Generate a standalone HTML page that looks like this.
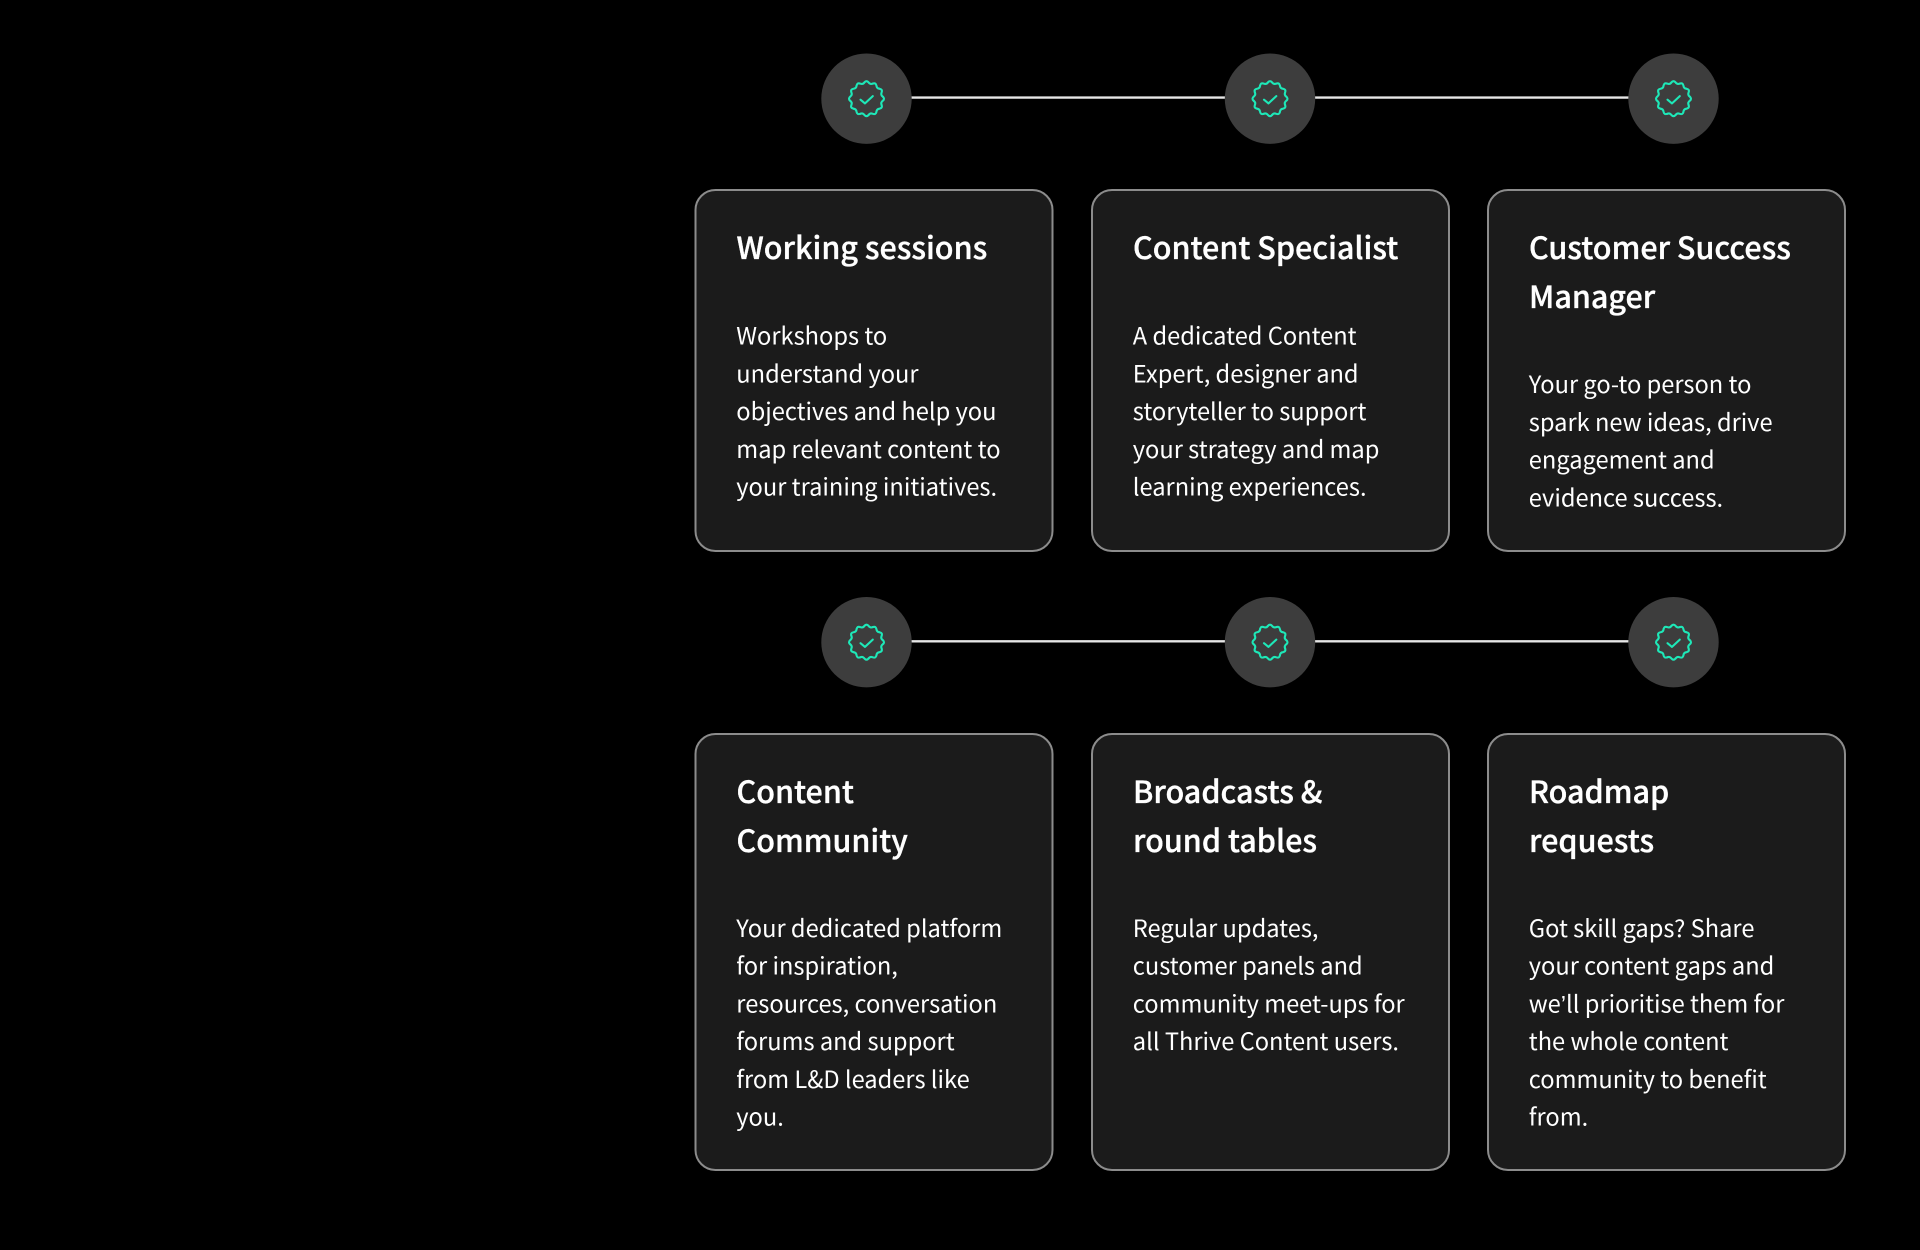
<!DOCTYPE html>
<html lang="en">
<head>
<meta charset="utf-8">
<title>Services</title>
<style>
html,body{margin:0;padding:0;background:#000;width:1920px;height:1250px;overflow:hidden}
svg{display:block}
text{font-family:"Noto Sans CJK SC","Liberation Sans",sans-serif;fill:#fff}
.h{font-size:30.5px;font-weight:500;stroke:#fff;stroke-width:.35px}
.b{font-size:23.65px;font-weight:400}
.c{fill:#1b1b1b;stroke:#8c8c8c;stroke-width:2}
.l{stroke:#e6e6e6;stroke-width:2.4}
.n{fill:#3d3d3d}
.i{fill:none;stroke:#1ee8b8;stroke-width:2.1;stroke-linecap:round;stroke-linejoin:round}
.q{font-family:"Liberation Sans",sans-serif}
</style>
</head>
<body>
<svg width="1920" height="1250" viewBox="0 0 1920 1250" xmlns="http://www.w3.org/2000/svg">
<defs>
<path id="s" d="M-2.135 -16.22Q0 -18.8 2.135 -16.22Q3.83 -14 6.26 -15.11"/>
<g id="badge">
<circle class="n" r="45.2"/>
<g class="i">
<use href="#s"/><use href="#s" transform="rotate(30)"/><use href="#s" transform="rotate(60)"/><use href="#s" transform="rotate(90)"/><use href="#s" transform="rotate(120)"/><use href="#s" transform="rotate(150)"/><use href="#s" transform="rotate(180)"/><use href="#s" transform="rotate(210)"/><use href="#s" transform="rotate(240)"/><use href="#s" transform="rotate(270)"/><use href="#s" transform="rotate(300)"/><use href="#s" transform="rotate(330)"/>
<path d="M-6 1L-1.5 4.7L6.3 -2.6"/>
</g>
</g>
</defs>

<line class="l" x1="905" y1="97.6" x2="1680" y2="97.6"/>
<use href="#badge" x="866.5" y="98.7"/>
<use href="#badge" x="1270" y="98.7"/>
<use href="#badge" x="1673.5" y="98.7"/>

<line class="l" x1="905" y1="641.3" x2="1680" y2="641.3"/>
<use href="#badge" x="866.5" y="642.2"/>
<use href="#badge" x="1270" y="642.2"/>
<use href="#badge" x="1673.5" y="642.2"/>

<rect class="c" x="695.5" y="190" width="357" height="361" rx="20"/>
<rect class="c" x="1092" y="190" width="357" height="361" rx="20"/>
<rect class="c" x="1488" y="190" width="357" height="361" rx="20"/>
<rect class="c" x="695.5" y="734" width="357" height="436" rx="20"/>
<rect class="c" x="1092" y="734" width="357" height="436" rx="20"/>
<rect class="c" x="1488" y="734" width="357" height="436" rx="20"/>

<text class="h" x="736.5" y="259">Working sessions</text>
<text class="b" x="736.3" y="344.7">Workshops to</text>
<text class="b" x="736.3" y="382.4">understand your</text>
<text class="b" x="736.3" y="420.2">objectives and help you</text>
<text class="b" x="736.3" y="458">map relevant content to</text>
<text class="b" x="736.3" y="495.7">your training initiatives.</text>

<text class="h" x="1133" y="259">Content Specialist</text>
<text class="b" x="1132.8" y="344.7">A dedicated Content</text>
<text class="b" x="1132.8" y="382.4">Expert, designer and</text>
<text class="b" x="1132.8" y="420.2">storyteller to support</text>
<text class="b" x="1132.8" y="458">your strategy and map</text>
<text class="b" x="1132.8" y="495.7">learning experiences.</text>

<text class="h" x="1529" y="259">Customer Success</text>
<text class="h" x="1529" y="308">Manager</text>
<text class="b" x="1528.8" y="393">Your go-to person to</text>
<text class="b" x="1528.8" y="430.9">spark new ideas, drive</text>
<text class="b" x="1528.8" y="468.7">engagement and</text>
<text class="b" x="1528.8" y="506.4">evidence success.</text>

<text class="h" x="736.5" y="803">Content</text>
<text class="h" x="736.5" y="852">Community</text>
<text class="b" x="736.3" y="937">Your dedicated platform</text>
<text class="b" x="736.3" y="974.7">for inspiration,</text>
<text class="b" x="736.3" y="1012.5">resources, conversation</text>
<text class="b" x="736.3" y="1050.2">forums and support</text>
<text class="b" x="736.3" y="1088">from L&amp;D leaders like</text>
<text class="b" x="736.3" y="1125.7">you.</text>

<text class="h" x="1133" y="803">Broadcasts &amp;</text>
<text class="h" x="1133" y="852">round tables</text>
<text class="b" x="1132.8" y="937">Regular updates,</text>
<text class="b" x="1132.8" y="974.7">customer panels and</text>
<text class="b" x="1132.8" y="1012.5">community meet-ups for</text>
<text class="b" x="1132.8" y="1050.2">all Thrive Content users.</text>

<text class="h" x="1529" y="803">Roadmap</text>
<text class="h" x="1529" y="852">requests</text>
<text class="b" x="1528.8" y="937">Got skill gaps? Share</text>
<text class="b" x="1528.8" y="974.7">your content gaps and</text>
<text class="b" x="1528.8" y="1012.5">we<tspan class="q">’</tspan>ll prioritise them for</text>
<text class="b" x="1528.8" y="1050.2">the whole content</text>
<text class="b" x="1528.8" y="1088">community to benefit</text>
<text class="b" x="1528.8" y="1125.7">from.</text>
</svg>
</body>
</html>
